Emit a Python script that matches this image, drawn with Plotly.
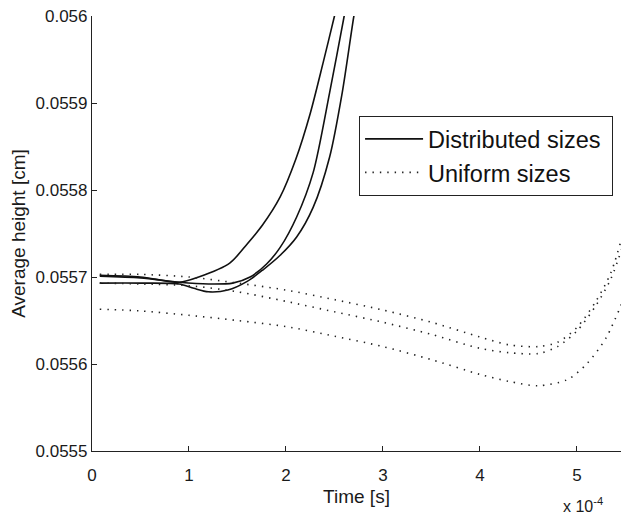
import plotly.graph_objects as go

# Time in units of 1e-4 s
dist_a_t = [0.08, 0.5, 0.9, 1.1, 1.42, 1.6, 1.76, 1.94, 2.1, 2.25, 2.38, 2.5, 2.55]
dist_a_h = [0.055702, 0.055700, 0.055694, 0.055700, 0.055716, 0.055738, 0.055760, 0.055792, 0.055835, 0.055888, 0.055945, 0.056000, 0.056025]

dist_b_t = [0.08, 0.5, 0.9, 1.2, 1.45, 1.63, 1.8, 1.94, 2.11, 2.28, 2.45, 2.6, 2.65]
dist_b_h = [0.055701, 0.055699, 0.055694, 0.055692, 0.055693, 0.055700, 0.055715, 0.055734, 0.055769, 0.055820, 0.055912, 0.056000, 0.056030]

dist_c_t = [0.08, 0.5, 0.9, 1.05, 1.2, 1.4, 1.6, 1.76, 1.94, 2.11, 2.28, 2.45, 2.58, 2.7, 2.75]
dist_c_h = [0.055693, 0.055693, 0.055692, 0.055687, 0.055683, 0.055685, 0.055695, 0.055708, 0.055725, 0.055746, 0.055780, 0.055838, 0.055912, 0.056000, 0.056030]

uni_a_t = [0.08, 0.5, 1.0, 1.5, 2.0, 2.5, 3.0, 3.5, 4.0, 4.3, 4.6, 4.8, 5.0, 5.2, 5.35, 5.5]
uni_a_h = [0.055703, 0.055703, 0.055700, 0.055693, 0.055685, 0.055674, 0.055662, 0.055648, 0.055631, 0.055622, 0.055620, 0.055625, 0.055642, 0.055673, 0.055705, 0.055760]

uni_b_t = [0.08, 0.5, 1.0, 1.5, 2.0, 2.5, 3.0, 3.5, 4.0, 4.3, 4.6, 4.8, 5.0, 5.2, 5.35, 5.5]
uni_b_h = [0.055693, 0.055692, 0.055690, 0.055683, 0.055672, 0.055660, 0.055648, 0.055634, 0.055618, 0.055613, 0.055612, 0.055620, 0.055638, 0.055668, 0.055698, 0.055745]

uni_c_t = [0.08, 0.5, 1.0, 1.5, 2.0, 2.5, 3.0, 3.5, 4.0, 4.3, 4.6, 4.9, 5.1, 5.3, 5.5]
uni_c_h = [0.055663, 0.055661, 0.055656, 0.055650, 0.055643, 0.055632, 0.055620, 0.055605, 0.055588, 0.055580, 0.055575, 0.055582, 0.055600, 0.055630, 0.055680]

x_ticks = [0, 1, 2, 3, 4, 5]
x_tick_text = ["0", "1", "2", "3", "4", "5"]
y_ticks = [0.0555, 0.0556, 0.0557, 0.0558, 0.0559, 0.056]
y_tick_text = ["0.0555", "0.0556", "0.0557", "0.0558", "0.0559", "0.056"]

FONT = "Liberation Sans, Arial, Helvetica, sans-serif"
DOT = "1.4px,6px"

fig = go.Figure()
solid = dict(color="#111111", width=1.6, shape="spline", smoothing=0.8)
dotted = dict(color="#222222", width=1.6, dash=DOT, shape="spline", smoothing=0.8)

for i, (t, h) in enumerate([(dist_a_t, dist_a_h), (dist_b_t, dist_b_h), (dist_c_t, dist_c_h)]):
    fig.add_trace(go.Scatter(x=t, y=h, mode="lines", line=solid,
                             name="Distributed sizes&nbsp;", legendgroup="d", showlegend=(i == 0)))
for i, (t, h) in enumerate([(uni_a_t, uni_a_h), (uni_b_t, uni_b_h), (uni_c_t, uni_c_h)]):
    fig.add_trace(go.Scatter(x=t, y=h, mode="lines", line=dotted,
                             name="Uniform sizes", legendgroup="u", showlegend=(i == 0)))

fig.update_layout(
    width=621, height=517,
    margin=dict(l=92, r=0, t=16, b=66),
    paper_bgcolor="white", plot_bgcolor="white",
    font=dict(family=FONT, size=17, color="#1a1a1a"),
    showlegend=True,
    legend=dict(x=0.985, y=0.77, xanchor="right", yanchor="top",
                bordercolor="#222222", borderwidth=1, bgcolor="white",
                font=dict(size=23.5, family=FONT, color="#111111"),
                tracegroupgap=0, itemwidth=58),
    xaxis=dict(range=[0, 5.454], tickvals=x_ticks, ticktext=x_tick_text,
               showline=True, linecolor="#222222", linewidth=1.2,
               ticks="inside", ticklen=5, tickcolor="#222222",
               ticklabelstandoff=8,
               showgrid=False, zeroline=False,
               title=dict(text="Time [s]", font=dict(size=19), standoff=6)),
    yaxis=dict(range=[0.0555, 0.056], tickvals=y_ticks, ticktext=y_tick_text,
               showline=True, linecolor="#222222", linewidth=1.2,
               ticks="inside", ticklen=5, tickcolor="#222222",
               showgrid=False, zeroline=False,
               title=dict(text="Average height [cm]", font=dict(size=19), standoff=4)),
)

fig.add_annotation(text="x 10<sup>-4</sup>", xref="paper", yref="paper",
                   x=0.97, y=-0.125, xanchor="right", yanchor="middle", showarrow=False,
                   font=dict(size=16, family=FONT, color="#1a1a1a"))

fig.write_html("out.html")
